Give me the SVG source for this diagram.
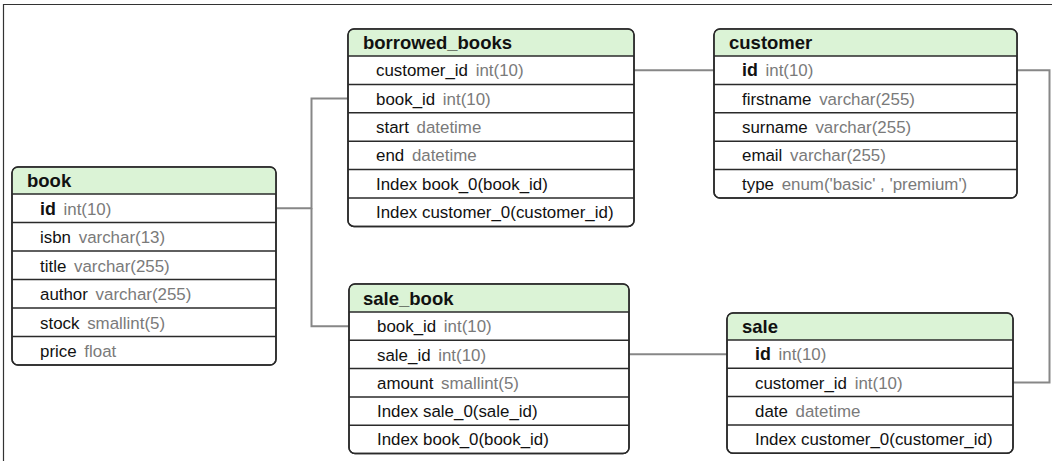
<svg xmlns="http://www.w3.org/2000/svg" width="1052" height="461" viewBox="0 0 1052 461">
<style>
.bg{fill:#fff}
.box{fill:#fff;stroke:#2a2a2a;stroke-width:1.5}
.out{fill:none;stroke:#2a2a2a;stroke-width:1.5}
.hdr{fill:#dbf3d6}
.dv{stroke:#2a2a2a;stroke-width:1.5}
.frame{stroke:#333;stroke-width:1.2;fill:none}
.conn{fill:none;stroke:#878787;stroke-width:2}
text{font-family:"Liberation Sans",Arial,sans-serif;fill:#111}
.ti{font-size:18.5px;font-weight:bold}
.f{font-size:16.9px}
.k{font-weight:bold;font-size:17.8px}
.t{fill:#7a7a7a}
</style>
<rect class="bg" x="0" y="0" width="1052" height="461"/>
<path class="frame" d="M3.5,461 V4.5 H1052"/>
<g id="connectors">
<path class="conn" d="M276,208.3 H311.5 V98.6 H348"/>
<path class="conn" d="M311.5,208.3 V326.2 H349"/>
<path class="conn" d="M634,70.2 H714"/>
<path class="conn" d="M629,354.3 H727"/>
<path class="conn" d="M1017,70.2 H1049.5 V382.5 H1013"/>
</g>
<g id="book">
<rect class="box" x="12" y="167" width="264" height="198" rx="6"/>
<path class="hdr" d="M12.75,194 V173 Q12.75,167.75 18,167.75 H270 Q275.25,167.75 275.25,173 V194 Z"/>
<line class="dv" x1="12" y1="194" x2="276" y2="194"/>
<line class="dv" x1="12" y1="222.5" x2="276" y2="222.5"/>
<line class="dv" x1="12" y1="251" x2="276" y2="251"/>
<line class="dv" x1="12" y1="279.5" x2="276" y2="279.5"/>
<line class="dv" x1="12" y1="308" x2="276" y2="308"/>
<line class="dv" x1="12" y1="336.5" x2="276" y2="336.5"/>
<rect class="out" x="12" y="167" width="264" height="198" rx="6"/>
<text class="ti" x="27" y="187">book</text>
<text class="f" x="40" y="214.5"><tspan class="k">id</tspan><tspan class="t" dx="3"> int(10)</tspan></text>
<text class="f" x="40" y="243"><tspan>isbn</tspan><tspan class="t" dx="3"> varchar(13)</tspan></text>
<text class="f" x="40" y="271.5"><tspan>title</tspan><tspan class="t" dx="3"> varchar(255)</tspan></text>
<text class="f" x="40" y="300"><tspan>author</tspan><tspan class="t" dx="3"> varchar(255)</tspan></text>
<text class="f" x="40" y="328.5"><tspan>stock</tspan><tspan class="t" dx="3"> smallint(5)</tspan></text>
<text class="f" x="40" y="357"><tspan>price</tspan><tspan class="t" dx="3"> float</tspan></text>
</g>
<g id="borrowed_books">
<rect class="box" x="348" y="29" width="286" height="197.4" rx="6"/>
<path class="hdr" d="M348.75,56 V35 Q348.75,29.75 354,29.75 H628 Q633.25,29.75 633.25,35 V56 Z"/>
<line class="dv" x1="348" y1="56" x2="634" y2="56"/>
<line class="dv" x1="348" y1="84.4" x2="634" y2="84.4"/>
<line class="dv" x1="348" y1="112.8" x2="634" y2="112.8"/>
<line class="dv" x1="348" y1="141.2" x2="634" y2="141.2"/>
<line class="dv" x1="348" y1="169.6" x2="634" y2="169.6"/>
<line class="dv" x1="348" y1="198" x2="634" y2="198"/>
<rect class="out" x="348" y="29" width="286" height="197.4" rx="6"/>
<text class="ti" x="363" y="49">borrowed_books</text>
<text class="f" x="376" y="76.2"><tspan>customer_id</tspan><tspan class="t" dx="3"> int(10)</tspan></text>
<text class="f" x="376" y="104.6"><tspan>book_id</tspan><tspan class="t" dx="3"> int(10)</tspan></text>
<text class="f" x="376" y="133"><tspan>start</tspan><tspan class="t" dx="3"> datetime</tspan></text>
<text class="f" x="376" y="161.4"><tspan>end</tspan><tspan class="t" dx="3"> datetime</tspan></text>
<text class="f" x="376" y="189.8">Index book_0(book_id)</text>
<text class="f" x="376" y="218.2">Index customer_0(customer_id)</text>
</g>
<g id="customer">
<rect class="box" x="714" y="29" width="303" height="169" rx="6"/>
<path class="hdr" d="M714.75,56 V35 Q714.75,29.75 720,29.75 H1011 Q1016.25,29.75 1016.25,35 V56 Z"/>
<line class="dv" x1="714" y1="56" x2="1017" y2="56"/>
<line class="dv" x1="714" y1="84.4" x2="1017" y2="84.4"/>
<line class="dv" x1="714" y1="112.8" x2="1017" y2="112.8"/>
<line class="dv" x1="714" y1="141.2" x2="1017" y2="141.2"/>
<line class="dv" x1="714" y1="169.6" x2="1017" y2="169.6"/>
<rect class="out" x="714" y="29" width="303" height="169" rx="6"/>
<text class="ti" x="729" y="49">customer</text>
<text class="f" x="742" y="76.2"><tspan class="k">id</tspan><tspan class="t" dx="3"> int(10)</tspan></text>
<text class="f" x="742" y="104.6"><tspan>firstname</tspan><tspan class="t" dx="3"> varchar(255)</tspan></text>
<text class="f" x="742" y="133"><tspan>surname</tspan><tspan class="t" dx="3"> varchar(255)</tspan></text>
<text class="f" x="742" y="161.4"><tspan>email</tspan><tspan class="t" dx="3"> varchar(255)</tspan></text>
<text class="f" x="742" y="189.8"><tspan>type</tspan><tspan class="t" dx="3"> enum('basic' , 'premium')</tspan></text>
</g>
<g id="sale_book">
<rect class="box" x="349" y="284" width="280" height="169.5" rx="6"/>
<path class="hdr" d="M349.75,312 V290 Q349.75,284.75 355,284.75 H623 Q628.25,284.75 628.25,290 V312 Z"/>
<line class="dv" x1="349" y1="312" x2="629" y2="312"/>
<line class="dv" x1="349" y1="340.3" x2="629" y2="340.3"/>
<line class="dv" x1="349" y1="368.6" x2="629" y2="368.6"/>
<line class="dv" x1="349" y1="396.9" x2="629" y2="396.9"/>
<line class="dv" x1="349" y1="425.2" x2="629" y2="425.2"/>
<rect class="out" x="349" y="284" width="280" height="169.5" rx="6"/>
<text class="ti" x="363" y="304.5">sale_book</text>
<text class="f" x="377" y="332.2"><tspan>book_id</tspan><tspan class="t" dx="3"> int(10)</tspan></text>
<text class="f" x="377" y="360.5"><tspan>sale_id</tspan><tspan class="t" dx="3"> int(10)</tspan></text>
<text class="f" x="377" y="388.8"><tspan>amount</tspan><tspan class="t" dx="3"> smallint(5)</tspan></text>
<text class="f" x="377" y="417.1">Index sale_0(sale_id)</text>
<text class="f" x="377" y="445.4">Index book_0(book_id)</text>
</g>
<g id="sale">
<rect class="box" x="727" y="313" width="286" height="140.2" rx="6"/>
<path class="hdr" d="M727.75,340 V319 Q727.75,313.75 733,313.75 H1007 Q1012.25,313.75 1012.25,319 V340 Z"/>
<line class="dv" x1="727" y1="340" x2="1013" y2="340"/>
<line class="dv" x1="727" y1="368.3" x2="1013" y2="368.3"/>
<line class="dv" x1="727" y1="396.6" x2="1013" y2="396.6"/>
<line class="dv" x1="727" y1="424.9" x2="1013" y2="424.9"/>
<rect class="out" x="727" y="313" width="286" height="140.2" rx="6"/>
<text class="ti" x="742" y="333">sale</text>
<text class="f" x="755" y="360.2"><tspan class="k">id</tspan><tspan class="t" dx="3"> int(10)</tspan></text>
<text class="f" x="755" y="388.5"><tspan>customer_id</tspan><tspan class="t" dx="3"> int(10)</tspan></text>
<text class="f" x="755" y="416.8"><tspan>date</tspan><tspan class="t" dx="3"> datetime</tspan></text>
<text class="f" x="755" y="445.1">Index customer_0(customer_id)</text>
</g>
</svg>
